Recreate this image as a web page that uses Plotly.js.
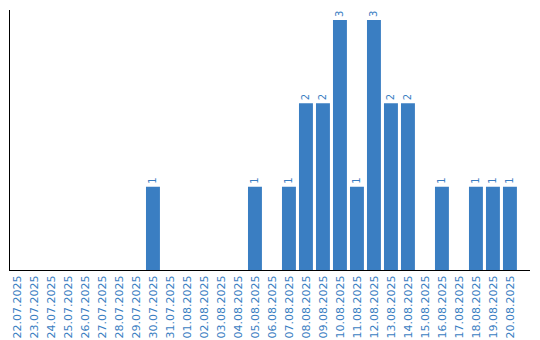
<!DOCTYPE html>
<html>
<head>
<meta charset="utf-8">
<script src="https://cdn.plot.ly/plotly-3.0.1.min.js"></script>
<style>html,body{margin:0;padding:0;background:#fff}#chart{width:540px;height:340px}</style>
</head>
<body>
<div id="chart"></div>
<script>
const dates = ["22.07.2025","23.07.2025","24.07.2025","25.07.2025","26.07.2025","27.07.2025","28.07.2025","29.07.2025","30.07.2025","31.07.2025","01.08.2025","02.08.2025","03.08.2025","04.08.2025","05.08.2025","06.08.2025","07.08.2025","08.08.2025","09.08.2025","10.08.2025","11.08.2025","12.08.2025","13.08.2025","14.08.2025","15.08.2025","16.08.2025","17.08.2025","18.08.2025","19.08.2025","20.08.2025"];
const counts = [0,0,0,0,0,0,0,0,1,0,0,0,0,0,1,0,1,2,2,3,1,3,2,2,0,1,0,1,1,1];

const blue = "#3a7ec2";
const labels = counts.map(v => v > 0 ? String(v) : "");

Plotly.newPlot("chart", [{
  type: "bar",
  x: dates,
  y: counts,
  text: labels,
  textposition: "outside",
  textangle: -90,
  constraintext: "none",
  cliponaxis: false,
  textfont: {family: "DejaVu Sans", size: 10, color: blue},
  marker: {color: blue},
  hoverinfo: "none"
}], {
  width: 540, height: 340,
  margin: {l: 10, r: 10, t: 10, b: 70},
  paper_bgcolor: "#fff", plot_bgcolor: "#fff",
  bargap: 0.18,
  showlegend: false,
  xaxis: {
    type: "category",
    range: [-0.41, 30.18],
    showline: true, linecolor: "#000", linewidth: 1,
    showgrid: false, zeroline: false,
    ticks: "", tickangle: -90,
    tickfont: {family: "DejaVu Sans", size: 11, color: blue}
  },
  yaxis: {
    range: [0, 3.12],
    showline: true, linecolor: "#000", linewidth: 1,
    showgrid: false, zeroline: false,
    showticklabels: false, ticks: ""
  }
}, {staticPlot: true});
</script>
</body>
</html>
